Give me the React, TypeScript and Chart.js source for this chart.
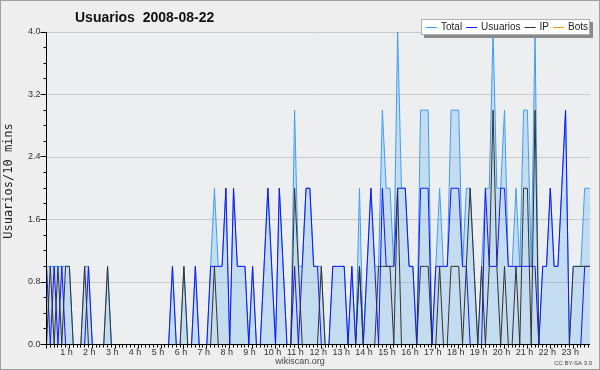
import React, { useEffect, useRef } from 'react';
import { Chart, registerables } from 'chart.js';

Chart.register(...registerables);

const TITLE = 'Usuarios  2008-08-22';
const Y_TITLE = 'Usuarios/10 mins';
const FOOTER = 'wikiscan.org';
const LICENSE = 'CC BY-SA 3.0';
const SERIES_NAMES = ['Total', 'Usuarios', 'IP', 'Bots'];
const HOURS = [1, 2, 3, 4, 5, 6, 7, 8, 9, 10, 11, 12, 13, 14, 15, 16, 17, 18, 19, 20, 21, 22, 23];
const Y_TICKS = [0, 0.8, 1.6, 2.4, 3.2, 4.0];

// 10-minute slots, six per hour (one row per hour)
const TOTAL = [
  1, 1, 1, 1, 1, 1,
  1, 0, 0, 0, 1, 1,
  0, 0, 0, 0, 1, 0,
  0, 0, 0, 0, 0, 0,
  0, 0, 0, 0, 0, 0,
  0, 0, 0, 1, 0, 0,
  1, 0, 0, 1, 0, 0,
  0, 1, 2, 1, 1, 2,
  0, 2, 1, 1, 1, 0,
  1, 0, 0, 1, 2, 1,
  0, 2, 1, 0, 0, 3,
  1, 1, 2, 2, 1, 1,
  1, 0, 0, 1, 1, 1,
  1, 0, 1, 0, 2, 0,
  1, 2, 1, 1, 3, 2,
  2, 1, 4, 2, 2, 1,
  1, 0, 3, 3, 3, 0,
  1, 2, 1, 1, 3, 3,
  3, 1, 2, 2, 1, 0,
  1, 2, 2, 4, 2, 2,
  3, 1, 1, 2, 1, 3,
  3, 1, 4, 0, 1, 1,
  2, 1, 1, 2, 3, 0,
  1, 1, 1, 2, 2, 2,
];

const USUARIOS = [
  1, 0, 1, 0, 1, 0,
  0, 0, 0, 0, 0, 1,
  0, 0, 0, 0, 0, 0,
  0, 0, 0, 0, 0, 0,
  0, 0, 0, 0, 0, 0,
  0, 0, 0, 1, 0, 0,
  0, 0, 0, 1, 0, 0,
  0, 1, 1, 1, 1, 2,
  0, 2, 1, 1, 1, 0,
  1, 0, 0, 1, 2, 1,
  0, 2, 1, 0, 0, 1,
  0, 1, 2, 2, 1, 1,
  0, 0, 0, 1, 1, 1,
  1, 0, 1, 0, 1, 0,
  1, 2, 1, 0, 2, 1,
  1, 1, 2, 2, 2, 1,
  1, 0, 2, 2, 2, 0,
  1, 1, 1, 1, 2, 2,
  2, 1, 1, 0, 0, 0,
  0, 2, 1, 1, 1, 2,
  2, 1, 1, 1, 1, 1,
  1, 1, 1, 0, 1, 1,
  2, 1, 1, 2, 3, 0,
  0, 0, 0, 1, 1, 1,
];

const IP = [
  0, 1, 0, 1, 0, 1,
  1, 0, 0, 0, 1, 0,
  0, 0, 0, 0, 1, 0,
  0, 0, 0, 0, 0, 0,
  0, 0, 0, 0, 0, 0,
  0, 0, 0, 0, 0, 0,
  1, 0, 0, 0, 0, 0,
  0, 0, 1, 0, 0, 0,
  0, 0, 0, 0, 0, 0,
  0, 0, 0, 0, 0, 0,
  0, 0, 0, 0, 0, 2,
  1, 0, 0, 0, 0, 0,
  1, 0, 0, 0, 0, 0,
  0, 0, 0, 0, 1, 0,
  0, 0, 0, 1, 1, 1,
  1, 0, 2, 0, 0, 0,
  0, 0, 1, 1, 1, 0,
  0, 1, 0, 0, 1, 1,
  1, 0, 1, 2, 1, 0,
  1, 0, 1, 3, 1, 0,
  1, 0, 0, 1, 0, 2,
  2, 0, 3, 0, 0, 0,
  0, 0, 0, 0, 0, 0,
  1, 1, 1, 1, 1, 1,
];

const BOTS = [
  0, 0, 0, 0, 0, 0, 0, 0, 0, 0, 0, 0, 0, 0, 0, 0, 0, 0, 0, 0, 0, 0, 0, 0,
  0, 0, 0, 0, 0, 0, 0, 0, 0, 0, 0, 0, 0, 0, 0, 0, 0, 0, 0, 0, 0, 0, 0, 0,
  0, 0, 0, 0, 0, 0, 0, 0, 0, 0, 0, 0, 0, 0, 0, 0, 0, 0, 0, 0, 0, 0, 0, 0,
  0, 0, 0, 0, 0, 0, 0, 0, 0, 0, 0, 0, 0, 0, 0, 0, 0, 0, 0, 0, 0, 0, 0, 0,
  0, 0, 0, 0, 0, 0, 0, 0, 0, 0, 0, 0, 0, 0, 0, 0, 0, 0, 0, 0, 0, 0, 0, 0,
  0, 0, 0, 0, 0, 0, 0, 0, 0, 0, 0, 0, 0, 0, 0, 0, 0, 0, 0, 0, 0, 0, 0, 0,
];

const COLORS = {
  total: '#3f9ef2',
  totalFill: 'rgba(40,150,235,0.2)',
  usuarios: '#1414ff',
  ip: '#333333',
  bots: '#ff9900',
};

const SANS = '"Liberation Sans", Arial, sans-serif';

const toPoints = (arr: number[]) => arr.map((v, i) => ({ x: i, y: v }));

const decorPlugin = {
  id: 'decor',
  beforeDraw(chart: any) {
    const { ctx, chartArea: a, width, height } = chart;
    ctx.save();
    ctx.fillStyle = '#eeeeee';
    ctx.fillRect(0, 0, width, height);
    ctx.fillStyle = '#eceef0';
    ctx.fillRect(a.left, a.top, a.right - a.left, a.bottom - a.top);
    ctx.restore();
  },
  afterDraw(chart: any) {
    const { ctx, chartArea: a, width, height } = chart;
    const xs = chart.scales.x;
    const ys = chart.scales.y;
    ctx.save();

    // axes
    ctx.strokeStyle = '#000';
    ctx.lineWidth = 1;
    ctx.beginPath();
    ctx.moveTo(a.left, a.top);
    ctx.lineTo(a.left, a.bottom + 0.5);
    ctx.moveTo(a.left - 0.5, a.bottom);
    ctx.lineTo(a.right, a.bottom);
    ctx.stroke();

    // y tick marks (major at labels, minor every 0.2)
    ctx.beginPath();
    for (let k = 0; k <= 20; k++) {
      const v = k * 0.2;
      const y = Math.floor(ys.getPixelForValue(v)) + 0.5;
      const major = k % 4 === 0;
      ctx.moveTo(a.left - (major ? 6 : 3), y);
      ctx.lineTo(a.left, y);
    }
    // x tick marks every 10 minutes
    for (let i = 0; i <= 142; i++) {
      const x = Math.floor(xs.getPixelForValue(i)) + 0.5;
      ctx.moveTo(x, a.bottom);
      ctx.lineTo(x, a.bottom + (i % 6 === 0 ? 4 : 3));
    }
    ctx.stroke();

    // title
    ctx.fillStyle = '#111';
    ctx.font = 'bold 14px ' + SANS;
    ctx.textAlign = 'left';
    ctx.textBaseline = 'alphabetic';
    ctx.fillText(TITLE, 75, 22);

    // y axis title
    ctx.save();
    ctx.translate(9, 181);
    ctx.rotate(-Math.PI / 2);
    ctx.font = '12px "DejaVu Sans Mono", monospace';
    ctx.textAlign = 'center';
    ctx.textBaseline = 'middle';
    ctx.fillStyle = '#222';
    ctx.fillText(Y_TITLE, 0, 0);
    ctx.restore();

    // legend box with shadow
    const bx = 421, by = 19, bw = 169, bh = 16;
    ctx.fillStyle = '#8a8a8a';
    ctx.fillRect(bx + 3, by + 3, bw, bh);
    ctx.fillStyle = '#ffffff';
    ctx.fillRect(bx, by, bw, bh);
    ctx.strokeStyle = '#b0b0b0';
    ctx.strokeRect(bx + 0.5, by + 0.5, bw - 1, bh - 1);
    ctx.font = '10px ' + SANS;
    ctx.textBaseline = 'middle';
    const cy = by + bh / 2 + 0.5;
    let lx = bx + 5;
    chart.data.datasets.forEach((ds: any) => {
      ctx.strokeStyle = ds.borderColor;
      ctx.lineWidth = 1;
      ctx.beginPath();
      ctx.moveTo(lx, Math.floor(cy) + 0.5);
      ctx.lineTo(lx + 11, Math.floor(cy) + 0.5);
      ctx.stroke();
      ctx.fillStyle = '#222';
      ctx.fillText(ds.label, lx + 15, cy);
      lx += 15 + ctx.measureText(ds.label).width + 4;
    });

    // footer
    ctx.fillStyle = '#444';
    ctx.textAlign = 'center';
    ctx.textBaseline = 'middle';
    ctx.font = '9px ' + SANS;
    ctx.fillText(FOOTER, 300, 362);
    ctx.textAlign = 'right';
    ctx.font = '6px ' + SANS;
    ctx.fillText(LICENSE, 592, 363);

    // outer frame
    ctx.strokeStyle = '#a0a0a0';
    ctx.lineWidth = 1;
    ctx.strokeRect(0.5, 0.5, width - 1, height - 1);
    ctx.restore();
  },
};

export default function App() {
  const ref = useRef<HTMLCanvasElement | null>(null);

  useEffect(() => {
    document.body.style.margin = '0';
    const canvas = ref.current;
    if (!canvas) return;
    const chart = new Chart(canvas, {
      type: 'line',
      data: {
        datasets: [
          {
            label: SERIES_NAMES[0],
            data: toPoints(TOTAL),
            borderColor: COLORS.total,
            backgroundColor: COLORS.totalFill,
            fill: 'origin',
            order: 4,
          },
          {
            label: SERIES_NAMES[1],
            data: toPoints(USUARIOS),
            borderColor: COLORS.usuarios,
            fill: false,
            order: 3,
          },
          {
            label: SERIES_NAMES[2],
            data: toPoints(IP),
            borderColor: COLORS.ip,
            fill: false,
            order: 2,
          },
          {
            label: SERIES_NAMES[3],
            data: toPoints(BOTS),
            borderColor: COLORS.bots,
            fill: false,
            order: 1,
          },
        ],
      },
      options: {
        responsive: false,
        animation: false,
        devicePixelRatio: 1,
        layout: { padding: { top: 32, right: 10, left: 0, bottom: 0 } },
        elements: {
          point: { radius: 0 },
          line: { tension: 0, borderWidth: 1 },
        },
        plugins: {
          legend: { display: false },
          title: { display: false },
          tooltip: { enabled: false },
        },
        scales: {
          x: {
            type: 'linear',
            min: 0,
            max: 142.4,
            grid: { display: false, drawTicks: false },
            border: { display: false },
            afterBuildTicks: (s: any) => {
              s.ticks = HOURS.map((h) => ({ value: h * 6 }));
            },
            afterFit: (s: any) => {
              s.height = 25.5;
            },
            ticks: {
              autoSkip: false,
              maxRotation: 0,
              padding: 3,
              labelOffset: -3,
              color: '#333',
              font: { family: SANS, size: 9 },
              callback: (v: any) => `${Number(v) / 6} h`,
            },
          },
          y: {
            min: 0,
            max: 4,
            grid: { color: '#cacaca', drawTicks: false },
            border: { display: false },
            afterBuildTicks: (s: any) => {
              s.ticks = Y_TICKS.map((v) => ({ value: v }));
            },
            afterFit: (s: any) => {
              s.width = 46.5;
            },
            ticks: {
              padding: 6,
              color: '#333',
              font: { family: SANS, size: 9 },
              callback: (v: any) => Number(v).toFixed(1),
            },
          },
        },
      },
      plugins: [decorPlugin],
    } as any);
    return () => chart.destroy();
  }, []);

  return <canvas ref={ref} width={600} height={370} style={{ display: 'block' }} />;
}
